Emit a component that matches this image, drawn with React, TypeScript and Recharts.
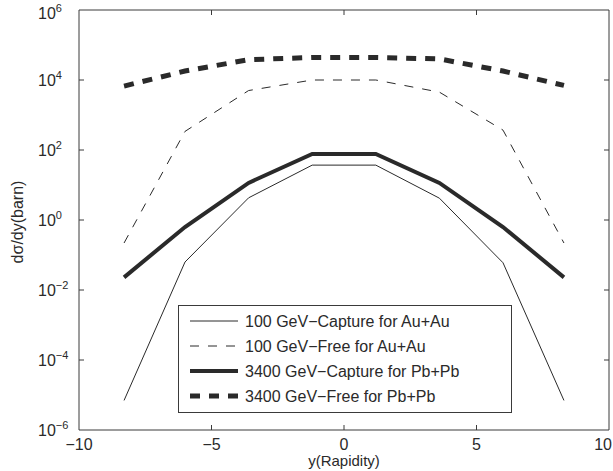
import React from 'react';
import { LineChart, Line, XAxis, YAxis, ReferenceArea } from 'recharts';

// rapidity points and cross sections (barn)
const rapidity = [-8.3, -6, -3.6, -1.2, 1.2, 3.6, 6, 8.3];
const capture100 = [7e-6, 0.063, 4.3, 37, 37, 4.2, 0.06, 7e-6];
const free100 = [0.22, 340, 5000, 10000, 10000, 4500, 370, 0.22];
const capture3400 = [0.023, 0.63, 11.5, 77, 77, 11.5, 0.63, 0.023];
const free3400 = [6700, 18000, 38000, 44000, 44000, 40000, 18000, 7000];

const xTicks = [-10, -5, 0, 5, 10];
const yExponents = [-6, -4, -2, 0, 2, 4, 6];

const seriesNames = [
  '100 GeV\u2212Capture for Au+Au',
  '100 GeV\u2212Free for Au+Au',
  '3400 GeV\u2212Capture for Pb+Pb',
  '3400 GeV\u2212Free for Pb+Pb',
];

const data = rapidity.map((y, i) => ({
  y,
  c100: capture100[i],
  f100: free100[i],
  c3400: capture3400[i],
  f3400: free3400[i],
}));

const W = 613;
const H = 471;
const LEFT = 79;
const RIGHT = 609;
const TOP = 10;
const BOTTOM = 430;
const INK = '#2a2a2a';
const AXIS = '#3a3a3a';
const FONT = '"Liberation Sans", Arial, sans-serif';

const styles = [
  { key: 'c100', width: 1, dash: undefined },
  { key: 'f100', width: 1, dash: '9 9' },
  { key: 'c3400', width: 4, dash: undefined },
  { key: 'f3400', width: 5, dash: '10 9' },
];

const fmt = (n: number) => (n < 0 ? '\u2212' + Math.abs(n) : String(n));

const XTick = (props: any) => {
  const { x, payload } = props;
  const v = payload.value;
  // the last label would run off the page, so pull it in
  const anchor = v === 10 ? 'end' : 'middle';
  const tx = v === 10 ? W - 1 : x;
  return (
    <g>
      {v > -10 && v < 10 && (
        <>
          <line x1={x} x2={x} y1={BOTTOM} y2={BOTTOM - 5} stroke={AXIS} />
          <line x1={x} x2={x} y1={TOP} y2={TOP + 5} stroke={AXIS} />
        </>
      )}
      <text x={tx} y={450} textAnchor={anchor} fontSize={16} fill={INK} fontFamily={FONT}>
        {fmt(v)}
      </text>
    </g>
  );
};

const YTick = (props: any) => {
  const { y, payload } = props;
  const exp = Math.round(Math.log10(payload.value));
  const base = exp === 6 ? y + 9 : y + 6;
  return (
    <g>
      {exp > -6 && exp < 6 && (
        <>
          <line x1={LEFT} x2={LEFT + 5} y1={y} y2={y} stroke={AXIS} />
          <line x1={RIGHT} x2={RIGHT - 5} y1={y} y2={y} stroke={AXIS} />
        </>
      )}
      <text x={38} y={base} fontSize={16} fill={INK} fontFamily={FONT}>
        10
        <tspan dy={-7} fontSize={11}>{fmt(exp)}</tspan>
      </text>
    </g>
  );
};

const LegendBox = () => (
  <svg width={334} height={108} style={{ position: 'absolute', left: 178, top: 305 }}>
    <rect x={0.5} y={0.5} width={333} height={107} fill="#fff" stroke={AXIS} />
    {styles.map((s, i) => {
      const cy = 16 + i * 25;
      return (
        <g key={s.key}>
          <line x1={12} x2={60} y1={cy} y2={cy} stroke={INK} strokeWidth={s.width} strokeDasharray={s.dash} />
          <text x={67} y={cy + 6} fontSize={16} fill={INK} fontFamily={FONT}>
            {seriesNames[i]}
          </text>
        </g>
      );
    })}
  </svg>
);

export default function App() {
  return (
    <div style={{ position: 'absolute', left: 0, top: 0, width: W, height: H, background: '#fff' }}>
      <LineChart width={W} height={H} data={data} margin={{ top: TOP, right: W - RIGHT, bottom: 0, left: 0 }}>
        <XAxis
          dataKey="y"
          type="number"
          domain={[-10, 10]}
          ticks={xTicks}
          height={H - BOTTOM}
          tickLine={false}
          axisLine={false}
          tick={<XTick />}
          interval={0}
        />
        <YAxis
          type="number"
          scale="log"
          domain={[1e-6, 1e6]}
          ticks={yExponents.map((e) => Math.pow(10, e))}
          allowDataOverflow
          width={LEFT}
          tickLine={false}
          axisLine={false}
          tick={<YTick />}
          interval={0}
        />
        <ReferenceArea x1={-10} x2={10} y1={1e-6} y2={1e6} fill="none" stroke={AXIS} strokeWidth={1} ifOverflow="visible" />
        {styles.map((s, i) => (
          <Line
            key={s.key}
            dataKey={s.key}
            name={seriesNames[i]}
            stroke={INK}
            strokeWidth={s.width}
            strokeDasharray={s.dash}
            dot={false}
            activeDot={false}
            isAnimationActive={false}
          />
        ))}
        <text x={344} y={466} textAnchor="middle" fontSize={15} fill={INK} fontFamily={FONT}>
          y(Rapidity)
        </text>
        <text x={23} y={222} textAnchor="middle" fontSize={16} fill={INK} fontFamily={FONT} transform="rotate(-90 23 222)">
          dσ/dy(barn)
        </text>
      </LineChart>
      <LegendBox />
    </div>
  );
}
